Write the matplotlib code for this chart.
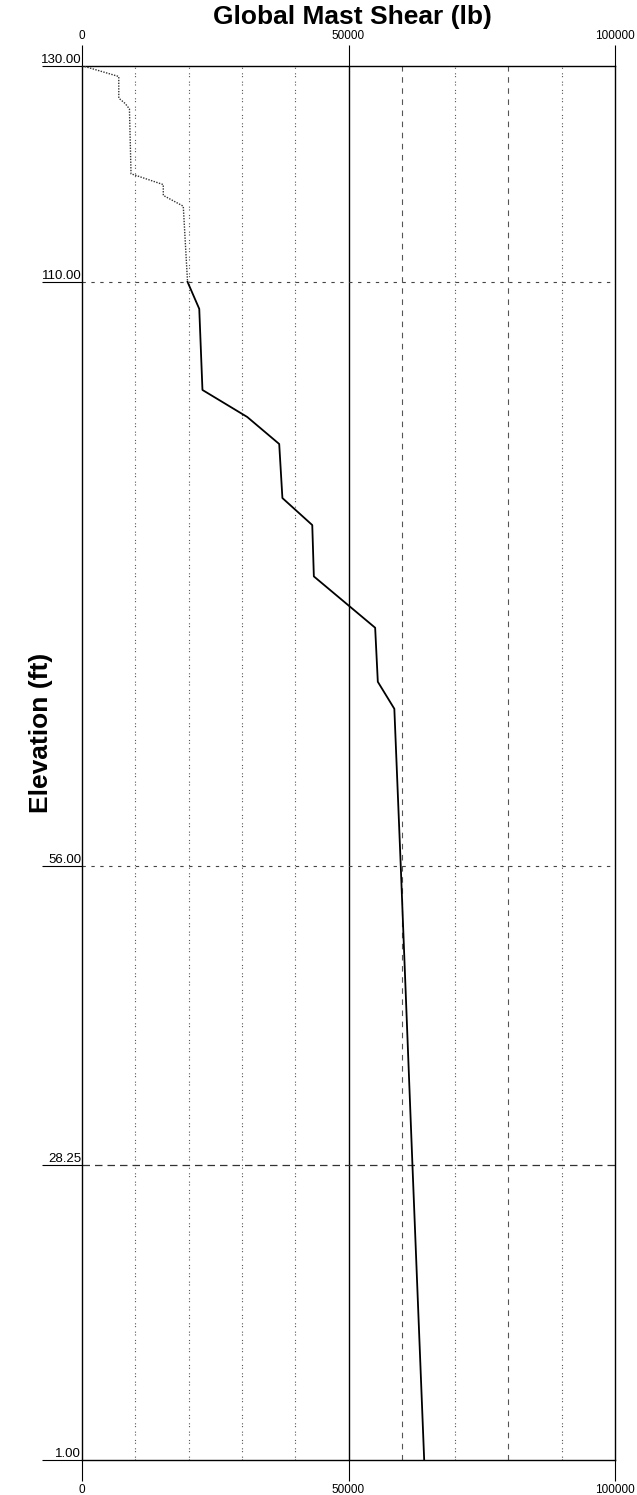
import matplotlib
matplotlib.use("Agg")
import matplotlib.pyplot as plt

plt.rcParams['font.family'] = ['Liberation Sans', 'DejaVu Sans']

# upper part (drawn dotted in the original)
elev_top = [130.0, 129.0, 127.0, 126.5, 126.0, 120.0, 119.0, 118.0, 117.0, 110.0]
shear_top = [0, 6900, 6900, 8100, 8900, 9200, 15250, 15250, 19000, 19800]

# lower part (solid)
elev_low = [110.0, 107.5, 100.0, 97.5, 95.0, 90.0, 87.5, 82.75, 78.0, 73.0, 70.5, 56.0, 28.25, 1.0]
shear_low = [19800, 22000, 22600, 31000, 37000, 37600, 43200, 43500, 55000, 55500, 58600, 59800, 62000, 64200]

x_ticks = [0, 50000, 100000]
y_ticks = [1.0, 28.25, 56.0, 110.0, 130.0]
y_tick_labels = ["1.00", "28.25", "56.00", "110.00", "130.00"]

dotted_grid = [10000, 20000, 30000, 40000, 70000, 90000]
dashed_grid = [60000, 80000]

fig = plt.figure(figsize=(6.37, 14.95), dpi=100)
ax = fig.add_axes([82/637, 1 - 1460/1495, 533/637, (1460 - 65.7)/1495])

ax.set_xlim(0, 100000)
ax.set_ylim(1, 130)

# vertical grid
for gx in dotted_grid:
    ax.axvline(gx, color='#555555', lw=0.8, ls=(0, (1, 1.5, 1, 4)), zorder=1)
for gx in dashed_grid:
    ax.axvline(gx, color='#555555', lw=0.8, ls=(0, (5, 5)), zorder=1)
ax.axvline(50000, color='black', lw=1.0, zorder=1)

# horizontal grid
for gy in [56.0, 110.0]:
    ax.axhline(gy, color='#444444', lw=0.8, ls=(0, (3, 5)), zorder=1)
ax.axhline(28.25, color='#333333', lw=0.9, ls=(0, (6, 4)), zorder=1)

ax.plot(shear_top, elev_top, color='#333333', lw=1.0, ls=(0, (1, 1)), zorder=3)
ax.plot(shear_low, elev_low, color='black', lw=1.3, zorder=3)

for s in ax.spines.values():
    s.set_linewidth(1.0)

ax.set_xticks(x_ticks)
ax.set_xticklabels([str(v) for v in x_ticks])
ax.tick_params(axis='x', direction='out', length=15, width=0.8, labelsize=8.5,
               top=True, labeltop=True, pad=2)

ax.set_yticks(y_ticks)
ax.set_yticklabels(y_tick_labels)
ax.tick_params(axis='y', direction='out', length=29, width=0.8, labelsize=9.5, pad=-28.5)
for lbl in ax.get_yticklabels():
    lbl.set_va('bottom')

fig.text(352/637, 1 - 17/1495, "Global Mast Shear (lb)", ha='center', va='center',
         fontsize=19, fontweight='bold')
fig.text(41/637, 1 - 733/1495, "Elevation (ft)", ha='center', va='center',
         rotation=90, fontsize=19, fontweight='bold')

fig.savefig("out.png", dpi=100)
